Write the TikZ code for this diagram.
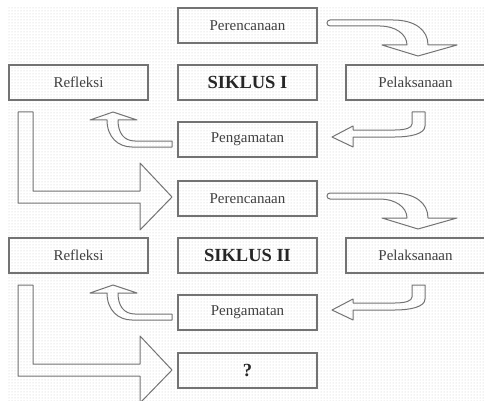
\documentclass[tikz,border=0pt]{standalone}
\usepackage{fontspec}
\setmainfont{Liberation Serif}
\usetikzlibrary{patterns}
\tikzset{box/.style = {draw=black!55, line width=1.2pt, minimum width=139pt, minimum height=35pt, inner sep=0, text=black!75, font=\fontsize{15}{15}\selectfont}}
\tikzset{title/.style = {box, text=black!85, font=\fontsize{18.5}{18.5}\selectfont\bfseries}}
\tikzset{blockarrow/.style = {draw=black!55, line width=1pt, line join=round}}

\begin{document}
\begin{tikzpicture}[x=1pt, y=-1pt]
    \useasboundingbox (0,0) rectangle (484,401);
    \fill[pattern=dots, pattern color=black!22] (8,6) rectangle (484,401);

    \foreach \cyc/\dy in {I/0, II/173}{
      \begin{scope}[shift={(0,\dy)}]
        \node[box] (per\cyc) at (247.5,25.5) {Perencanaan};
        \node[title] (sik\cyc) at (247.5,82.5) {SIKLUS \cyc};
        \node[box] (ref\cyc) at (78.5,82.5) {Refleksi};
        \node[box] (pel\cyc) at (415.5,82.5) {Pelaksanaan};
        \node[box] (pen\cyc) at (247.5,139.5) {Pengamatan};

        % Perencanaan -> Pelaksanaan
        \draw[blockarrow] (330,20) -- (393,20) .. controls (415,20) and (428,30) .. (428,45)
            -- (457,45) -- (418,56) -- (382,45) -- (407,45)
            .. controls (407,34) and (395,26) .. (380,26) -- (330,26)
            .. controls (326,26) and (326,20) .. (330,20) -- cycle;
        % Pelaksanaan -> Pengamatan
        \draw[blockarrow] (412,112) -- (425,112) -- (425,126) .. controls (425,134) and (410,137) .. (395,137)
            -- (353,137) -- (353,147) -- (332,137) -- (353,126) -- (353,130) -- (395,130)
            .. controls (405,130) and (412,128) .. (412,124) -- cycle;
        % Pengamatan -> Refleksi
        \draw[blockarrow] (172,141) -- (135,141) .. controls (124,141) and (118,133) .. (118,120)
            -- (137,120) -- (113,112) -- (90,120) -- (107,120)
            .. controls (107,137) and (118,147) .. (132,147) -- (172,147) -- cycle;
        % Refleksi -> next
        \draw[blockarrow] (18,112) -- (33,112) -- (33,191) -- (140,191) -- (140,163) -- (172,197)
            -- (140,230) -- (140,203) -- (18,203) -- cycle;
      \end{scope}
    }

    \node[title] (next) at (247.5,370.5) {?};
\end{tikzpicture}
\end{document}
